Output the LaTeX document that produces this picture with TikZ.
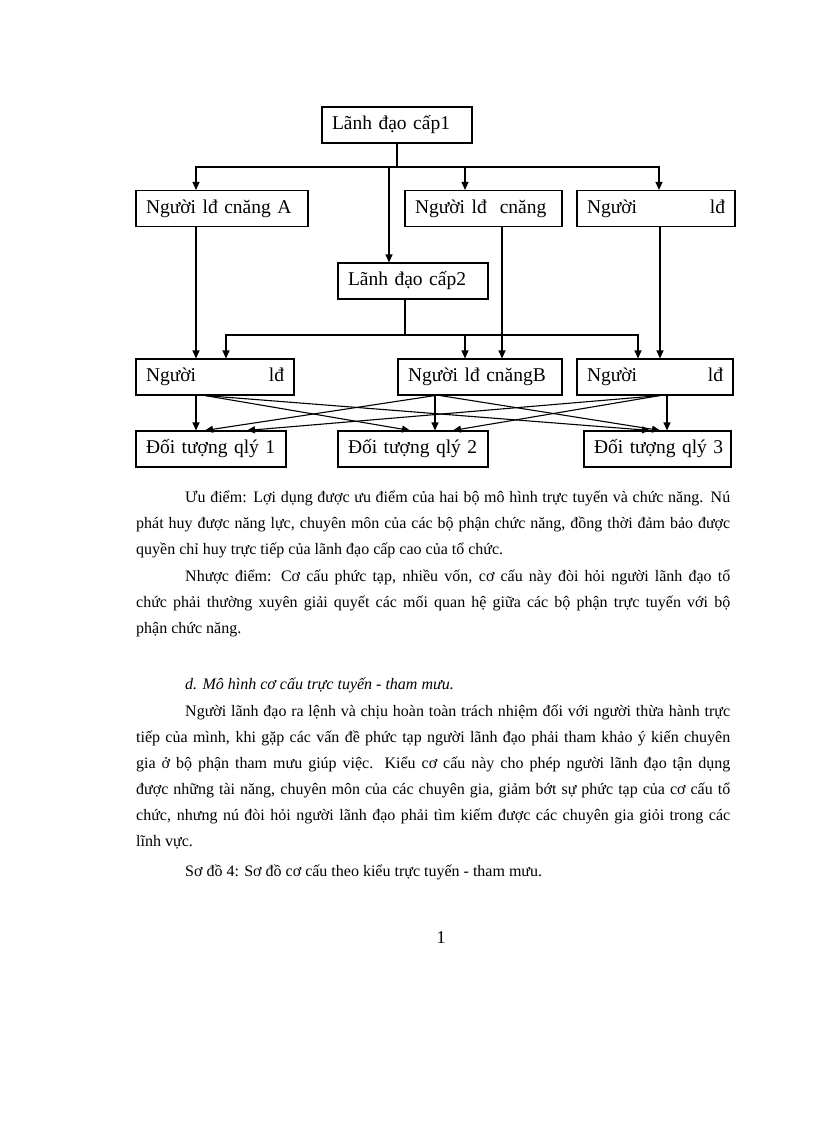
\documentclass[tikz,border=0pt]{standalone}
\usepackage{fontspec}
\setmainfont{Liberation Serif}
\newfontfamily\tnr{Liberation Serif}
\usetikzlibrary{arrows.meta}
\newcommand\boxf{\tnr\fontsize{19.5}{23}\selectfont}
\newcommand\bodyf{\tnr\fontsize{16}{19}\selectfont}
\newcommand\headf{\tnr\itshape\fontsize{16}{19}\selectfont}
\newcommand\pagef{\tnr\fontsize{18}{21}\selectfont}
\newcommand\ffill{\hspace{0pt plus 1filll}}
\tikzset{
  box/.style={draw, line width=1.1pt, minimum height=36pt, inner xsep=10pt, inner ysep=2pt, align=left, font=\boxf},
  ln/.style={line width=1.1pt},
  arr/.style={line width=1.1pt, -{Triangle[length=8pt,width=7pt]}},
  bodyline/.style={anchor=base west, inner sep=0pt, font=\bodyf},
}
\begin{document}
\begin{tikzpicture}[x=1pt,y=-1pt]
\useasboundingbox (0,0) rectangle (816,1123);
\fill[white] (0,0) rectangle (816,1123);

% ---- boxes
\node[box, text width=130pt] (l1) at (397,125) {\mbox{Lãnh đạo cấp1}};
\node[box, text width=152pt] (a) at (222,208.5) {\mbox{Người lđ cnăng A}};
\node[box, text width=137pt] (b) at (483.5,208.5) {\mbox{Người lđ~~cnăng}};
\node[box, text width=138pt] (c) at (656,208.5) {Người\ffill lđ};
\node[box, text width=130pt] (l2) at (413,281) {\mbox{Lãnh đạo cấp2}};
\node[box, text width=138pt] (ra) at (215,377) {Người\ffill lđ};
\node[box, text width=144pt] (rb) at (480,377) {\mbox{Người lđ cnăngB}};
\node[box, text width=136pt] (rc) at (655,377) {Người\ffill lđ};
\node[box, text width=130pt] (oa) at (211,449) {\mbox{Đối tượng qlý 1}};
\node[box, text width=130pt] (ob) at (413,449) {\mbox{Đối tượng qlý 2}};
\node[box, text width=127pt] (oc) at (657.5,449) {\mbox{Đối tượng qlý 3}};

% ---- level 1 connectors
\coordinate (b1) at (397,167);
\draw[ln] (l1.south) -- (b1);
\draw[arr] (b1) -| ([xshift=-26pt]a.north);
\draw[arr] (b1) -| ([xshift=-18.5pt]b.north);
\draw[arr] (b1) -| ([xshift=3pt]c.north);
\draw[arr] (b1) -| ([xshift=-24pt]l2.north);

% ---- level 2 connectors
\coordinate (b2) at (405,335);
\draw[ln] ([xshift=-8pt]l2.south) -- (b2);
\draw[arr] (b2) -| ([xshift=11pt]ra.north);
\draw[arr] (b2) -| ([xshift=-15pt]rb.north);
\draw[arr] (b2) -| ([xshift=-17pt]rc.north);
\draw[arr] ([xshift=-26pt]a.south) -- ([xshift=-19pt]ra.north);
\draw[arr] ([xshift=18.5pt]b.south) -- ([xshift=22pt]rb.north);
\draw[arr] ([xshift=4pt]c.south) -- ([xshift=5pt]rc.north);

% ---- crossing connectors
\draw[arr] ([xshift=-19pt]ra.south) -- ([xshift=-15pt]oa.north);
\draw[arr] ([xshift=-10pt]ra.south) -- ([xshift=-3pt]ob.north);
\draw[arr] ([xshift=-10pt]ra.south) -- ([xshift=-7.5pt]oc.north);
\draw[arr] ([xshift=-45pt]rb.south) -- ([xshift=22pt]ob.north);
\draw[arr] ([xshift=-45pt]rb.south) -- ([xshift=-6pt]oa.north);
\draw[arr] ([xshift=-40pt]rb.south) -- ([xshift=2.5pt]oc.north);
\draw[arr] ([xshift=12pt]rc.south) -- ([xshift=9.5pt]oc.north);
\draw[arr] ([xshift=5pt]rc.south) -- ([xshift=36pt]oa.north);
\draw[arr] ([xshift=5pt]rc.south) -- ([xshift=40pt]ob.north);

% ---- text
\node[bodyline] (t1) at (185,502) {\makebox[545pt][s]{Ưu điểm: Lợi dụng được ưu điểm của hai bộ mô hình trực tuyến và chức năng. Nú}};
\node[bodyline] (t2) at (136,528) {\makebox[594pt][s]{phát huy được năng lực, chuyên môn của các bộ phận chức năng, đồng thời đảm bảo được}};
\node[bodyline] (t3) at (136,554) {quyền chỉ huy trực tiếp của lãnh đạo cấp cao của tổ chức.};
\node[bodyline] (t4) at (185,581) {\makebox[545pt][s]{Nhược điểm: Cơ cấu phức tạp, nhiều vốn, cơ cấu này đòi hỏi người lãnh đạo tổ}};
\node[bodyline] (t5) at (136,607) {\makebox[594pt][s]{chức phải thường xuyên giải quyết các mối quan hệ giữa các bộ phận trực tuyến với bộ}};
\node[bodyline] (t6) at (136,633) {phận chức năng.};
\node[bodyline, font=\headf] (h1) at (185,689) {d. Mô hình cơ cấu trực tuyến - tham mưu.};
\node[bodyline] (s1) at (185,716) {\makebox[545pt][s]{Người lãnh đạo ra lệnh và chịu hoàn toàn trách nhiệm đối với người thừa hành trực}};
\node[bodyline] (s2) at (136,742) {\makebox[594pt][s]{tiếp của mình, khi gặp các vấn đề phức tạp người lãnh đạo phải tham khảo ý kiến chuyên}};
\node[bodyline] (s3) at (136,768) {\makebox[594pt][s]{gia ở bộ phận tham mưu giúp việc. Kiểu cơ cấu này cho phép người lãnh đạo tận dụng}};
\node[bodyline] (s4) at (136,794) {\makebox[594pt][s]{được những tài năng, chuyên môn của các chuyên gia, giảm bớt sự phức tạp của cơ cấu tổ}};
\node[bodyline] (s5) at (136,820) {\makebox[594pt][s]{chức, nhưng nú đòi hỏi người lãnh đạo phải tìm kiếm được các chuyên gia giỏi trong các}};
\node[bodyline] (s6) at (136,846) {lĩnh vực.};
\node[bodyline] (cap) at (185,876) {Sơ đồ 4: Sơ đồ cơ cấu theo kiểu trực tuyến - tham mưu.};
\node[anchor=base, inner sep=0pt, font=\pagef] (pg) at (441,943) {1};
\end{tikzpicture}
\end{document}
